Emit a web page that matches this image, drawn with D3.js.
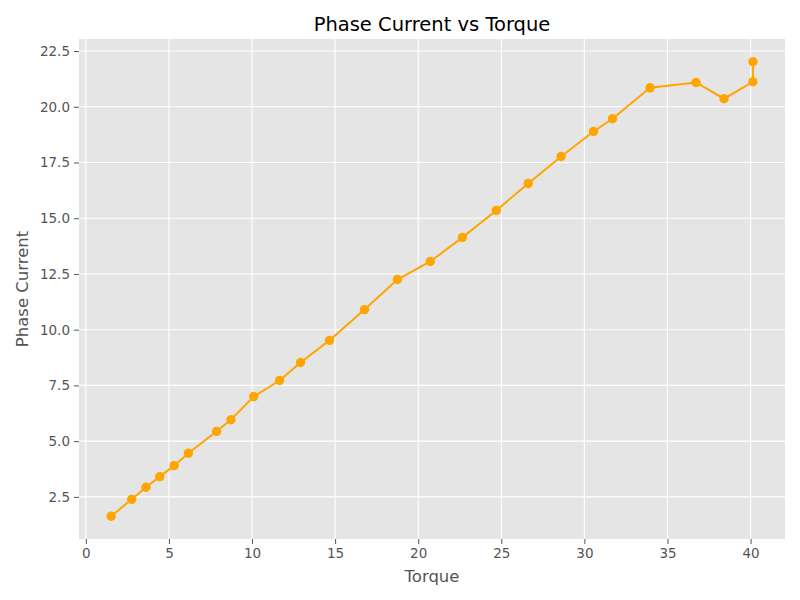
<!DOCTYPE html>
<html>
<head>
<meta charset="utf-8">
<script src="https://cdn.jsdelivr.net/npm/d3@7"></script>
<style>
  body { margin: 0; background: #fff; }
  text { font-family: "DejaVu Sans", sans-serif; }
</style>
</head>
<body>
<div id="chart"></div>
<script>
// data
const TORQUE = [1.52, 2.76, 3.62, 4.45, 5.31, 6.17, 7.87, 8.73, 10.1, 11.66,
  12.92, 14.66, 16.77, 18.75, 20.73, 22.66, 24.7, 26.62, 28.6, 30.55,
  31.69, 33.95, 36.72, 38.4, 40.14, 40.14];
const PHASE_CURRENT = [1.63, 2.39, 2.93, 3.41, 3.90, 4.46, 5.44, 5.96, 7.0, 7.72,
  8.53, 9.52, 10.9, 12.25, 13.06, 14.14, 15.35, 16.56, 17.77, 18.89,
  19.46, 20.85, 21.09, 20.36, 21.12, 22.02];
const X_TICKS = [0, 5, 10, 15, 20, 25, 30, 35, 40];
const Y_TICKS = [2.5, 5.0, 7.5, 10.0, 12.5, 15.0, 17.5, 20.0, 22.5];

const W = 800, H = 600;
const M = { top: 39, right: 15, bottom: 61, left: 79 };
const innerW = W - M.left - M.right;
const innerH = H - M.top - M.bottom;

const points = TORQUE.map((t, i) => ({ x: t, y: PHASE_CURRENT[i] }));

// matplotlib style 5% margins
function padded(vals) {
  const [lo, hi] = d3.extent(vals);
  const m = (hi - lo) * 0.05;
  return [lo - m, hi + m];
}

const x = d3.scaleLinear().domain(padded(TORQUE)).range([0, innerW]);
const y = d3.scaleLinear().domain(padded(PHASE_CURRENT)).range([innerH, 0]);

const svg = d3.select("#chart").append("svg")
  .attr("width", W)
  .attr("height", H);

const g = svg.append("g")
  .attr("transform", `translate(${M.left},${M.top})`);

// panel background
g.append("rect")
  .attr("width", innerW)
  .attr("height", innerH)
  .attr("fill", "#E5E5E5");

// grid
g.selectAll(".xgrid").data(X_TICKS).enter().append("line")
  .attr("x1", d => x(d)).attr("x2", d => x(d))
  .attr("y1", 0).attr("y2", innerH)
  .attr("stroke", "#fff").attr("stroke-width", 1.1);
g.selectAll(".ygrid").data(Y_TICKS).enter().append("line")
  .attr("y1", d => y(d)).attr("y2", d => y(d))
  .attr("x1", 0).attr("x2", innerW)
  .attr("stroke", "#fff").attr("stroke-width", 1.1);

// axes
const xAxis = g.append("g")
  .attr("transform", `translate(0,${innerH})`)
  .call(d3.axisBottom(x).tickValues(X_TICKS).tickFormat(d3.format("d")).tickSize(5).tickPadding(4));
const yAxis = g.append("g")
  .call(d3.axisLeft(y).tickValues(Y_TICKS).tickFormat(d3.format(".1f")).tickSize(5).tickPadding(4));

[xAxis, yAxis].forEach(a => {
  a.select(".domain").remove();
  a.selectAll(".tick line").attr("stroke", "#555555").attr("stroke-width", 1);
  a.selectAll(".tick text")
    .attr("fill", "#555555")
    .style("font-size", "13.5px")
    .style("font-family", "DejaVu Sans, sans-serif");
});

// line + markers
g.append("path")
  .datum(points)
  .attr("fill", "none")
  .attr("stroke", "#FFA500")
  .attr("stroke-width", 2)
  .attr("d", d3.line().x(d => x(d.x)).y(d => y(d.y)));

g.selectAll(".dot").data(points).enter().append("circle")
  .attr("cx", d => x(d.x))
  .attr("cy", d => y(d.y))
  .attr("r", 4.7)
  .attr("fill", "#FFA500");

// title and labels
svg.append("text")
  .attr("x", M.left + innerW / 2)
  .attr("y", 31)
  .attr("text-anchor", "middle")
  .style("font-size", "19.5px")
  .attr("fill", "#000")
  .text("Phase Current vs Torque");

svg.append("text")
  .attr("x", M.left + innerW / 2)
  .attr("y", 582)
  .attr("text-anchor", "middle")
  .style("font-size", "16.5px")
  .attr("fill", "#555555")
  .text("Torque");

svg.append("text")
  .attr("transform", `translate(28,${M.top + innerH / 2}) rotate(-90)`)
  .attr("text-anchor", "middle")
  .style("font-size", "16.5px")
  .attr("fill", "#555555")
  .text("Phase Current");
</script>
</body>
</html>
